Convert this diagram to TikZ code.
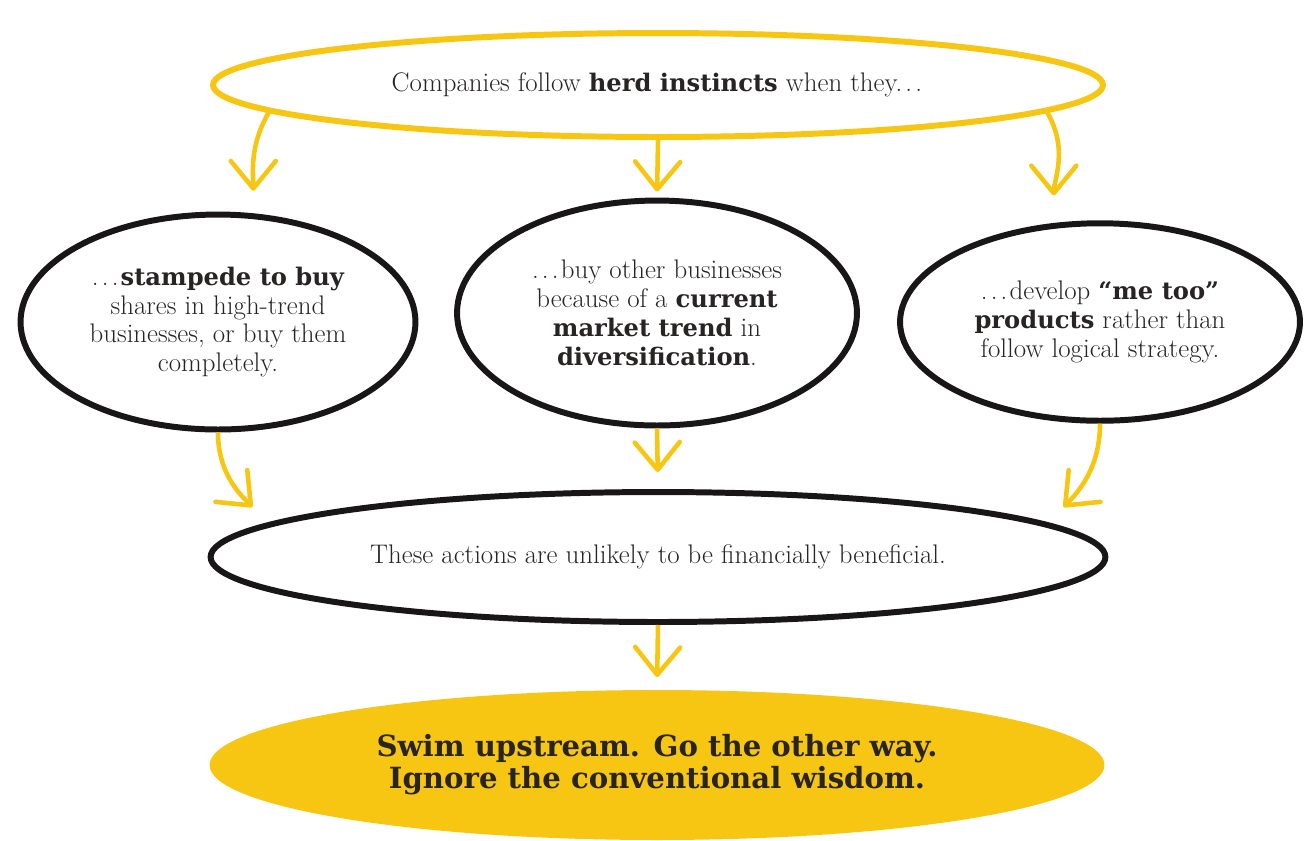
\documentclass[tikz,border=0pt]{standalone}
\usepackage{fontspec}
\usetikzlibrary{arrows.meta, shapes.geometric}
\newfontfamily\slab[Scale=0.9]{DejaVu Serif}
\newfontfamily\slabbig{DejaVu Serif}
\definecolor{herdyellow}{RGB}{246,198,18}
\definecolor{inkblack}{RGB}{24,22,22}
\definecolor{textgray}{RGB}{40,36,36}
\newcommand{\hb}[1]{{\slab\bfseries #1}}
\newcommand{\trail}{.\kern0.12em.\kern0.12em.\kern0.08em}

\begin{document}
\begin{tikzpicture}[
  x=0.02cm, y=0.02cm,
  every node/.style={font=\fontsize{15.3}{16.4}\selectfont, text=textgray},
  ring/.style={ellipse, inner sep=0pt, align=center, line width=3.4pt},
  herdring/.style={ring, draw=herdyellow},
  choice/.style={ring, draw=inkblack},
  outcome/.style={ring, draw=inkblack},
  verdict/.style={ring, fill=herdyellow, font=\slabbig\bfseries\fontsize{16.6}{18.2}\selectfont},
  flow/.style={draw=herdyellow, line width=2.6pt,
    -{Straight Barb[length=0.55cm, width=0.9cm, round]}}
]
\useasboundingbox (0,0) rectangle (1311,-840);

% top: the question
\node[herdring, minimum width=17.8cm, minimum height=2.08cm] (herd) at (658,-85)
  {Companies follow \hb{herd instincts} when they\trail};

% === THREE CHOICES ===
\node[choice, minimum width=7.9cm, minimum height=4.3cm] (stampede) at (218,-322)
  {\trail\hb{stampede to buy}\\shares in high-trend\\businesses, or buy them\\completely.};
\node[choice, minimum width=8.0cm, minimum height=4.5cm] (diversify) at (657,-313)
  {\trail buy other businesses\\because of a \hb{current}\\\hb{market trend} in\\\hb{diversification}.};
\node[choice, minimum width=8.0cm, minimum height=3.95cm] (metoo) at (1100,-322)
  {\trail develop \hb{“me too”}\\\hb{products} rather than\\follow logical strategy.};

% === OUTCOME + VERDICT ===
\node[outcome, minimum width=17.9cm, minimum height=2.6cm] (unlikely) at (658,-557)
  {These actions are unlikely to be financially beneficial.};
\node[verdict, minimum width=17.9cm, minimum height=3.0cm] (swim) at (657,-765)
  {Swim upstream. Go the other way.\\Ignore the conventional wisdom.};

\draw[flow, shorten >=0.45cm] (herd.184) to[out=-120,in=90] (stampede.72);
\draw[flow, shorten >=0.12cm] (herd.south) -- (diversify.north);
\draw[flow, shorten >=0.55cm] (herd.-4) to[out=-60,in=90] (metoo.115);

\draw[flow, shorten >=0.45cm] (stampede.south) to[out=-90,in=135] (unlikely.175);
\draw[flow, shorten >=0.34cm] (diversify.south) -- (unlikely.north);
\draw[flow, shorten >=0.45cm] (metoo.south) to[out=-90,in=45] (unlikely.5);

\draw[flow, shorten >=0.2cm] (unlikely.south) -- (swim.north);

\end{tikzpicture}
\end{document}
